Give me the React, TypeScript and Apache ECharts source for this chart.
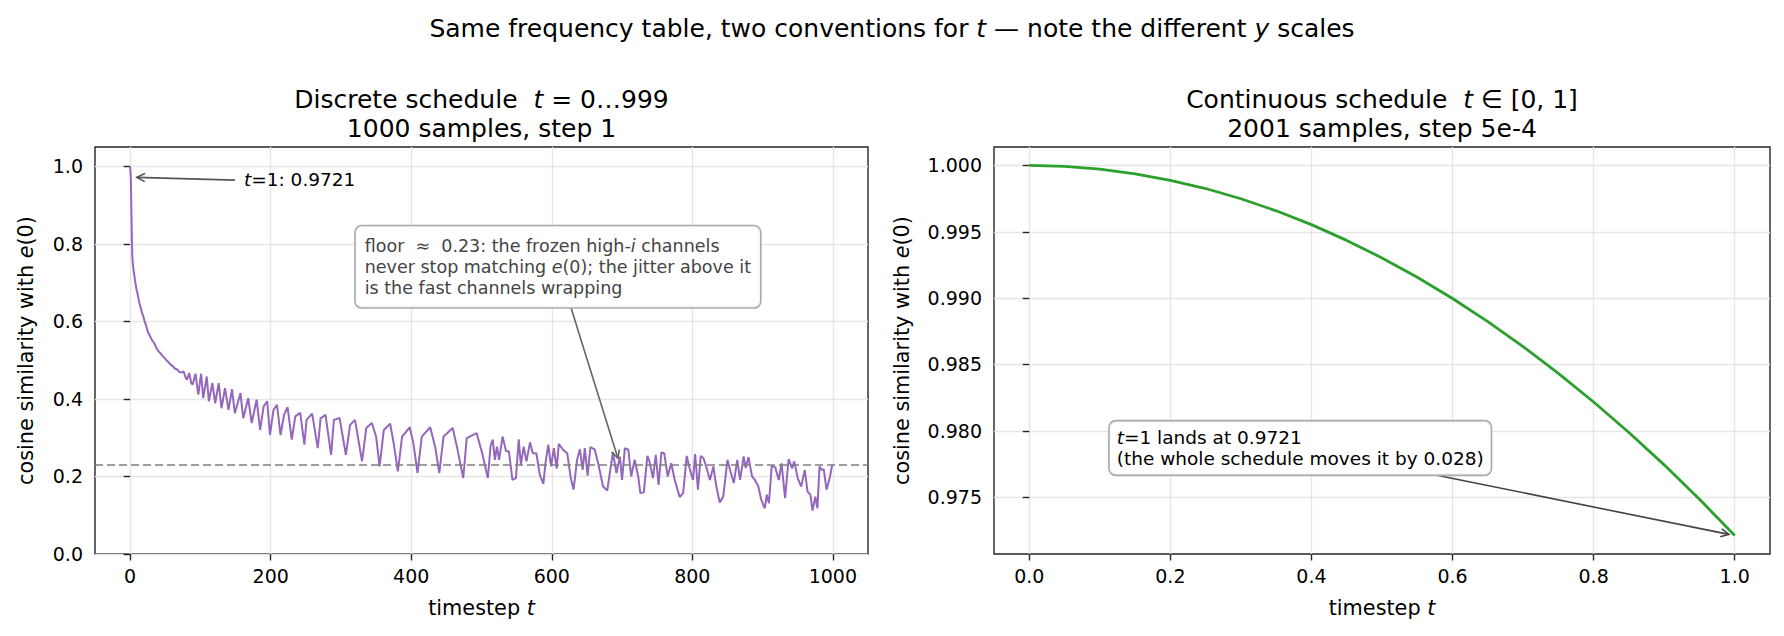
import React, { useEffect, useRef } from 'react';
import * as echarts from 'echarts';

const FONT = "'DejaVu Sans', 'Noto Sans', sans-serif";

// ---- Left panel: discrete schedule t = 0..999 ----
const discreteT = [
  0, 1, 2, 3, 4, 5, 7, 9, 11, 13, 15, 17, 19, 21, 23, 25, 28, 31, 34, 37, 40, 43, 46, 49, 52, 55, 58, 61, 64, 67,
  70, 73, 76, 79, 81, 84, 87, 89, 93, 97, 101, 104, 109, 112, 117, 121, 126, 130, 135, 140, 145, 149, 157, 161,
  168, 173, 180, 185, 190, 195, 199, 204, 209, 214, 219, 224, 230, 235, 242, 248, 251, 259, 267, 271, 278, 286,
  290, 298, 307, 313, 320, 330, 336, 344, 350, 355, 361, 370, 375, 381, 387, 398, 403, 409, 415, 427, 434, 440,
  446, 459, 465, 474, 479, 493, 501, 509, 513, 516, 519, 522, 525, 530, 535, 539, 544, 549, 553, 556, 560, 564,
  569, 573, 578, 583, 588, 591, 595, 599, 603, 607, 610, 616, 622, 627, 631, 636, 640, 644, 647, 651, 655, 661,
  666, 673, 679, 684, 687, 692, 697, 700, 704, 709, 713, 718, 723, 726, 731, 736, 739, 744, 748, 752, 756, 760,
  765, 770, 775, 782, 787, 792, 796, 801, 804, 808, 812, 816, 820, 825, 830, 834, 839, 844, 850, 854, 859, 864,
  868, 873, 876, 880, 885, 889, 894, 898, 903, 906, 909, 913, 918, 923, 927, 932, 937, 942, 945, 950, 955, 960,
  964, 968, 971, 975, 978, 981, 984, 987, 991, 996, 999,
];
const discreteSim = [
  1.0, 0.9721, 0.86, 0.77, 0.745, 0.732, 0.705, 0.683, 0.668, 0.648, 0.636, 0.622, 0.612, 0.598, 0.588, 0.574,
  0.563, 0.552, 0.545, 0.533, 0.524, 0.518, 0.511, 0.506, 0.499, 0.494, 0.488, 0.484, 0.478, 0.476,
  0.47, 0.468, 0.471, 0.455, 0.45, 0.467, 0.441, 0.437, 0.465, 0.411, 0.465, 0.402, 0.458, 0.394, 0.441, 0.389,
  0.441, 0.376, 0.428, 0.372, 0.425, 0.363, 0.415, 0.35,
  0.402, 0.338, 0.398, 0.32, 0.381, 0.394, 0.307, 0.372, 0.385, 0.307, 0.359, 0.379, 0.295, 0.355, 0.364, 0.282,
  0.346, 0.362, 0.273, 0.35, 0.359, 0.256,
  0.346, 0.351, 0.256, 0.333, 0.346, 0.239, 0.325, 0.338, 0.303, 0.226, 0.32, 0.336, 0.286, 0.213, 0.303, 0.327,
  0.286, 0.209, 0.303, 0.327, 0.277, 0.209,
  0.303, 0.325, 0.277, 0.196, 0.299, 0.312, 0.26, 0.196, 0.28, 0.295, 0.243, 0.277, 0.243, 0.303, 0.265, 0.265,
  0.191, 0.196, 0.296, 0.23, 0.277, 0.239,
  0.288, 0.26, 0.26, 0.204, 0.181, 0.234, 0.282, 0.226, 0.273, 0.22, 0.284, 0.269, 0.26, 0.196, 0.166, 0.243,
  0.27, 0.217, 0.273, 0.202, 0.276, 0.27,
  0.234, 0.174, 0.164, 0.226, 0.262, 0.209, 0.251, 0.191, 0.273, 0.269, 0.2, 0.243, 0.2, 0.157, 0.159, 0.253,
  0.239, 0.196, 0.256, 0.178, 0.262, 0.26,
  0.2, 0.234, 0.191, 0.147, 0.157, 0.253, 0.222, 0.191, 0.258, 0.166, 0.253, 0.247, 0.224, 0.191, 0.226, 0.176,
  0.133, 0.148, 0.243, 0.215, 0.183, 0.243,
  0.191, 0.252, 0.222, 0.25, 0.2, 0.191, 0.174, 0.14, 0.118, 0.153, 0.131, 0.227, 0.224, 0.191, 0.234, 0.144,
  0.245, 0.221, 0.239, 0.196, 0.174, 0.217,
  0.161, 0.153, 0.112, 0.148, 0.118, 0.226, 0.217, 0.219, 0.166, 0.2, 0.23,
];
const floorLevel = 0.226;

// ---- Right panel: continuous schedule t in [0, 1] ----
const continuousT = [0, 0.05, 0.1, 0.15, 0.2, 0.25, 0.3, 0.35, 0.4, 0.45, 0.5, 0.55, 0.6, 0.65, 0.7, 0.75, 0.8, 0.85, 0.9, 0.95, 1.0];
const continuousSim = [
  1.0, 0.99993, 0.99972, 0.99937, 0.99888, 0.99826, 0.99749, 0.99658, 0.99554, 0.99435, 0.99303, 0.99157,
  0.98997, 0.98823, 0.98635, 0.98433, 0.98217, 0.97987, 0.97743, 0.97484, 0.9721,
];

// ---- Ticks ----
const leftXTicks = [0, 200, 400, 600, 800, 1000];
const leftYTicks = [0, 0.2, 0.4, 0.6, 0.8, 1.0];
const rightXTicks = [0, 0.2, 0.4, 0.6, 0.8, 1.0];
const rightYTicks = [0.975, 0.98, 0.985, 0.99, 0.995, 1.0];

// ---- Annotation anchors (data coordinates) ----
const t1Point = [1, 0.9721];
const t1LabelAt = [162, 0.967];
const floorTarget = [695, 0.242];
const floorBoxAt = [321, 0.741];
const endPoint = [1.0, 0.9721];
const endBoxAt = [0.114, 0.9787];

const FRAME = '#262626';
const TITLE_SIZE = 25;
const LABEL_SIZE = 20.8;

function axisBase(ticks: number[], fmt: (v: number) => string) {
  return {
    axisLine: { show: false },
    axisTick: { show: true, length: 6.5, customValues: ticks, lineStyle: { color: FRAME, width: 1.4 } },
    axisLabel: {
      customValues: ticks,
      fontSize: 19,
      fontFamily: FONT,
      color: '#000',
      margin: 12,
      formatter: (v: number) => fmt(Number(v)),
    },
    splitLine: { show: true, lineStyle: { color: '#e6e6e6', width: 1.4 } },
  };
}

const nameStyle = {
  fontSize: LABEL_SIZE,
  fontFamily: FONT,
  color: '#000',
  rich: {
    n: { fontSize: LABEL_SIZE, fontFamily: FONT, color: '#000' },
    i: { fontSize: LABEL_SIZE, fontFamily: FONT, color: '#000', fontStyle: 'italic' },
  },
};

function arrow(from: number[], to: number[], shrink: number, color: string, width: number) {
  const dx = to[0] - from[0];
  const dy = to[1] - from[1];
  const L = Math.hypot(dx, dy) || 1;
  const ux = dx / L;
  const uy = dy / L;
  const tip = [to[0] - ux * shrink, to[1] - uy * shrink];
  const hl = 8;
  const hw = 4;
  const base = [tip[0] - ux * hl, tip[1] - uy * hl];
  const p1 = [base[0] - uy * hw, base[1] + ux * hw];
  const p2 = [base[0] + uy * hw, base[1] - ux * hw];
  return [
    { type: 'line', silent: true, z: 50, shape: { x1: from[0], y1: from[1], x2: tip[0], y2: tip[1] }, style: { stroke: color, lineWidth: width } },
    { type: 'polyline', silent: true, z: 50, shape: { points: [p1, tip, p2] }, style: { stroke: color, lineWidth: width, fill: null } },
  ];
}

function rectExit(cx: number, cy: number, hw: number, hh: number, target: number[]) {
  const dx = target[0] - cx;
  const dy = target[1] - cy;
  const sx = dx !== 0 ? hw / Math.abs(dx) : Infinity;
  const sy = dy !== 0 ? hh / Math.abs(dy) : Infinity;
  const s = Math.min(sx, sy);
  return [cx + dx * s, cy + dy * s];
}

function richText(size: number, color: string) {
  return {
    n: { fontSize: size, fontFamily: FONT, fill: color, color },
    i: { fontSize: size, fontFamily: FONT, fill: color, color, fontStyle: 'italic' },
  };
}

export default function App() {
  const ref = useRef<HTMLDivElement>(null);

  useEffect(() => {
    const el = ref.current;
    if (!el) return;
    const chart = echarts.init(el, undefined, { renderer: 'svg' });

    const leftData = discreteT.map((t, i) => [t, discreteSim[i]]);
    const rightData = continuousT.map((t, i) => [t, continuousSim[i]]);

    chart.setOption({
      animation: false,
      backgroundColor: '#fff',
      textStyle: { fontFamily: FONT },
      grid: [
        { left: 95, top: 147, width: 773, height: 407, show: true, borderColor: FRAME, borderWidth: 1.4, backgroundColor: 'transparent', containLabel: false },
        { left: 994, top: 147, width: 776, height: 407, show: true, borderColor: FRAME, borderWidth: 1.4, backgroundColor: 'transparent', containLabel: false },
      ],
      xAxis: [
        {
          type: 'value', gridIndex: 0, min: -50, max: 1050,
          ...axisBase(leftXTicks, (v) => String(Math.round(v))),
          name: '{n|timestep }{i|t}', nameLocation: 'middle', nameGap: 43, nameTextStyle: nameStyle,
        },
        {
          type: 'value', gridIndex: 1, min: -0.05, max: 1.05,
          ...axisBase(rightXTicks, (v) => v.toFixed(1)),
          name: '{n|timestep }{i|t}', nameLocation: 'middle', nameGap: 43, nameTextStyle: nameStyle,
        },
      ],
      yAxis: [
        {
          type: 'value', gridIndex: 0, min: 0, max: 1.05,
          ...axisBase(leftYTicks, (v) => v.toFixed(1)),
          name: '{n|cosine similarity with }{i|e}{n|(0)}', nameLocation: 'middle', nameGap: 59, nameTextStyle: nameStyle,
        },
        {
          type: 'value', gridIndex: 1, min: 0.97071, max: 1.00139,
          ...axisBase(rightYTicks, (v) => v.toFixed(3)),
          name: '{n|cosine similarity with }{i|e}{n|(0)}', nameLocation: 'middle', nameGap: 82, nameTextStyle: nameStyle,
        },
      ],
      series: [
        {
          type: 'line', xAxisIndex: 0, yAxisIndex: 0, data: leftData, showSymbol: false, symbol: 'none',
          lineStyle: { color: '#9467bd', width: 2 }, z: 3,
          markLine: {
            silent: true, symbol: ['none', 'none'], label: { show: false },
            lineStyle: { type: [8, 4], color: '#7f7f7f', width: 1.5 },
            emphasis: { disabled: true },
            data: [{ yAxis: floorLevel }],
          },
        },
        {
          type: 'line', xAxisIndex: 1, yAxisIndex: 1, data: rightData, showSymbol: false, symbol: 'none',
          smooth: false, lineStyle: { color: '#2ca02c', width: 2.8 }, z: 3,
        },
      ],
    });

    const L = (p: number[]) => chart.convertToPixel({ xAxisIndex: 0, yAxisIndex: 0 }, p) as number[];
    const R = (p: number[]) => chart.convertToPixel({ xAxisIndex: 1, yAxisIndex: 1 }, p) as number[];

    const elements: any[] = [];

    // titles
    elements.push({
      type: 'text', silent: true, x: 892, y: 28,
      style: {
        text: '{n|Same frequency table, two conventions for }{i|t}{n| — note the different }{i|y}{n| scales}',
        align: 'center', verticalAlign: 'middle', rich: richText(TITLE_SIZE, '#000'),
      },
    });
    elements.push({
      type: 'text', silent: true, x: 481.5, y: 99,
      style: { text: '{n|Discrete schedule  }{i|t}{n| = 0…999}', align: 'center', verticalAlign: 'middle', rich: richText(TITLE_SIZE, '#000') },
    });
    elements.push({
      type: 'text', silent: true, x: 481.5, y: 128,
      style: { text: '1000 samples, step 1', align: 'center', verticalAlign: 'middle', fontSize: TITLE_SIZE, fontFamily: FONT, fill: '#000' },
    });
    elements.push({
      type: 'text', silent: true, x: 1382, y: 99,
      style: { text: '{n|Continuous schedule  }{i|t}{n| ∈ [0, 1]}', align: 'center', verticalAlign: 'middle', rich: richText(TITLE_SIZE, '#000') },
    });
    elements.push({
      type: 'text', silent: true, x: 1382, y: 128,
      style: { text: '2001 samples, step 5e-4', align: 'center', verticalAlign: 'middle', fontSize: TITLE_SIZE, fontFamily: FONT, fill: '#000' },
    });

    // left: t=1 annotation
    const t1Px = L(t1Point);
    const t1Lab = L(t1LabelAt);
    elements.push({
      type: 'text', silent: true, x: t1Lab[0], y: t1Lab[1], z: 60,
      style: { text: '{i|t}{n|=1: 0.9721}', align: 'left', verticalAlign: 'middle', rich: richText(18.5, '#000') },
    });
    elements.push(...arrow([t1Lab[0] - 9, t1Lab[1] + 1], t1Px, 6, '#555', 1.6));

    // left: floor box
    const fb = L(floorBoxAt);
    const fbW = 405;
    const fbH = 82;
    const fTarget = L(floorTarget);
    const fStart = rectExit(fb[0] + fbW / 2, fb[1], fbW / 2, fbH / 2, fTarget);
    elements.push(...arrow(fStart, fTarget, 2, '#666', 1.6));
    elements.push({
      type: 'text', silent: true, x: fb[0], y: fb[1], z: 60,
      style: {
        text: '{n|floor  ≈  0.23: the frozen high-}{i|i}{n| channels}\n{n|never stop matching }{i|e}{n|(0); the jitter above it}\n{n|is the fast channels wrapping}',
        align: 'left', verticalAlign: 'middle',
        rich: {
          n: { fontSize: 17.5, fontFamily: FONT, fill: '#444', color: '#444', lineHeight: 21 },
          i: { fontSize: 17.5, fontFamily: FONT, fill: '#444', color: '#444', fontStyle: 'italic', lineHeight: 21 },
        },
        backgroundColor: 'rgba(255,255,255,0.9)', borderColor: '#aaaaaa', borderWidth: 1.6, borderRadius: 6,
        padding: [9, 9, 9, 9],
      },
    });

    // right: end-point annotation
    const eb = R(endBoxAt);
    const ebW = 385;
    const ebH = 54;
    const eTarget = R(endPoint);
    const eStart = rectExit(eb[0] + ebW / 2, eb[1], ebW / 2, ebH / 2, eTarget);
    elements.push(...arrow(eStart, eTarget, 6, '#444', 1.6));
    elements.push({
      type: 'text', silent: true, x: eb[0], y: eb[1], z: 60,
      style: {
        text: '{i|t}{n|=1 lands at 0.9721}\n{n|(the whole schedule moves it by 0.028)}',
        align: 'left', verticalAlign: 'middle',
        rich: {
          n: { fontSize: 18.5, fontFamily: FONT, fill: '#000', color: '#000', lineHeight: 21.6 },
          i: { fontSize: 18.5, fontFamily: FONT, fill: '#000', color: '#000', fontStyle: 'italic', lineHeight: 21.6 },
        },
        backgroundColor: 'rgba(255,255,255,0.9)', borderColor: '#aaaaaa', borderWidth: 1.6, borderRadius: 6,
        padding: [5, 7, 5, 7],
      },
    });

    chart.setOption({ graphic: { elements } });

    return () => {
      chart.dispose();
    };
  }, []);

  return (
    <div
      ref={ref}
      style={{ position: 'fixed', left: 0, top: 0, width: 1784, height: 636, background: '#fff' }}
    />
  );
}
